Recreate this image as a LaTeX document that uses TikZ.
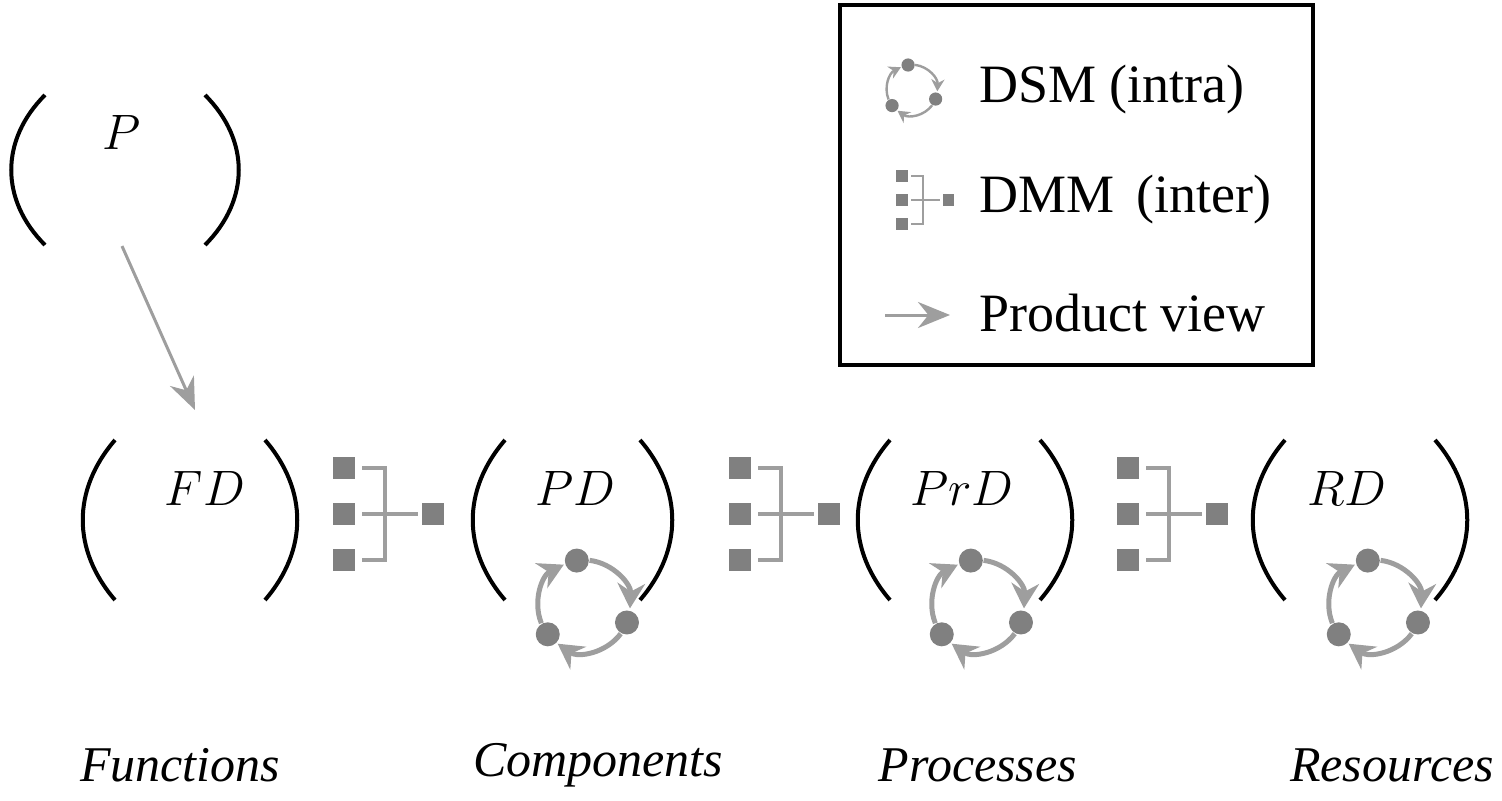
\documentclass[tikz,border=0pt]{standalone}
\usepackage{fontspec}
\setmainfont{Liberation Serif}
\usepackage{amsmath}
\usetikzlibrary{arrows.meta}

\definecolor{iconfill}{gray}{0.5}
\definecolor{iconline}{gray}{0.62}

% one pixel of the reference is half a point, y counted upwards
\newcommand{\paren}[4]{% x left, x right, y top, y bottom
  \draw[line width=2pt] #1 .. controls #2 and #3 .. #4;}
\newcommand{\dsmicon}[3]{% centre, scale, line width
  \begin{scope}[shift={#1},scale=#2,line width=#3,iconline,
      -{Stealth[length=5*#3,width=5.5*#3]}]
    \fill[iconfill,-] (99:46) circle (12) (-21:46) circle (12) (218:46) circle (12);
    \draw (83:46) arc (83:-3:46);
    \draw (-37:46) arc (-37:-125:46);
    \draw (202:46) arc (202:116:46);
  \end{scope}}
\newcommand{\dmmicon}[3]{% centre of middle left square, scale, line width
  \begin{scope}[shift={#1},scale=#2,line width=#3]
    \foreach \dy in {46,0,-46}
      \fill[iconfill] (-11,\dy-11) rectangle (11,\dy+11);
    \fill[iconfill] (78,-11) rectangle (100,11);
    \draw[iconline] (18,46) -- (41,46) -- (41,-46) -- (18,-46);
    \draw[iconline] (18,0) -- (74,0);
  \end{scope}}

\begin{document}
\begin{tikzpicture}[x=0.5pt,y=0.5pt,
    mathlbl/.style={font=\fontsize{46}{50}\selectfont},
    domlbl/.style={font=\fontsize{25}{30}\selectfont\itshape},
    legtext/.style={font=\fontsize{27}{30}\selectfont,anchor=west}]
\useasboundingbox (0,0) rectangle (1502,800);

% product matrix
\node[mathlbl] (P) at (122,668) {$P$};
\paren{(45,705)}{(0,660)}{(0,600)}{(45,555)}
\paren{(205,705)}{(250,660)}{(250,600)}{(205,555)}

% domain matrices
\node[mathlbl] (FD) at (205,312) {$FD$};
\node[mathlbl] (PD) at (575,312) {$PD$};
\node[mathlbl] (PrD) at (962,312) {$PrD$};
\node[mathlbl] (RD) at (1347,312) {$RD$};
\foreach \xl/\xr in {80/265,470/640,855/1040,1250/1435} {
  \paren{(\xl+35,360)}{(\xl-8,310)}{(\xl-8,250)}{(\xl+35,200)}
  \paren{(\xr,360)}{(\xr+43,310)}{(\xr+43,250)}{(\xr,200)}
}

% product view arrow
\coordinate (fdtop) at (195,390);
\draw[iconline,line width=1.5pt,-{Stealth[length=16pt,width=13pt]}] (P.south) ++(0,-90) -- (fdtop);

% DMM between domains, DSM inside domains
\dmmicon{(344,286)}{1}{2pt}
\dmmicon{(740,286)}{1}{2pt}
\dmmicon{(1128,286)}{1}{2pt}
\dsmicon{(584,194)}{1}{2.5pt}
\dsmicon{(978,194)}{1}{2.5pt}
\dsmicon{(1375,194)}{1}{2.5pt}

% domain names
\node[domlbl] (fun) at (180,35) {Functions};
\node[domlbl] (com) at (598,35) {Components};
\node[domlbl] (pro) at (978,35) {Processes};
\node[domlbl] (res) at (1392,35) {Resources};

% legend
\draw[line width=2pt] (840,795) rectangle (1313,435);
\dsmicon{(912,710)}{0.55}{1.2pt}
\node[legtext] (dsm) at (972,710) {DSM (intra)};
\dmmicon{(902,600)}{0.52}{1.1pt}
\node[legtext] (dmm) at (972,600) {DMM\, (inter)};
\coordinate (pvs) at (885,485);
\coordinate (pve) at (950,485);
\draw[iconline,line width=1.5pt,-{Stealth[length=16pt,width=13pt]}] (pvs) -- (pve);
\node[legtext] (pv) at (972,487) {Product view};
\end{tikzpicture}
\end{document}
